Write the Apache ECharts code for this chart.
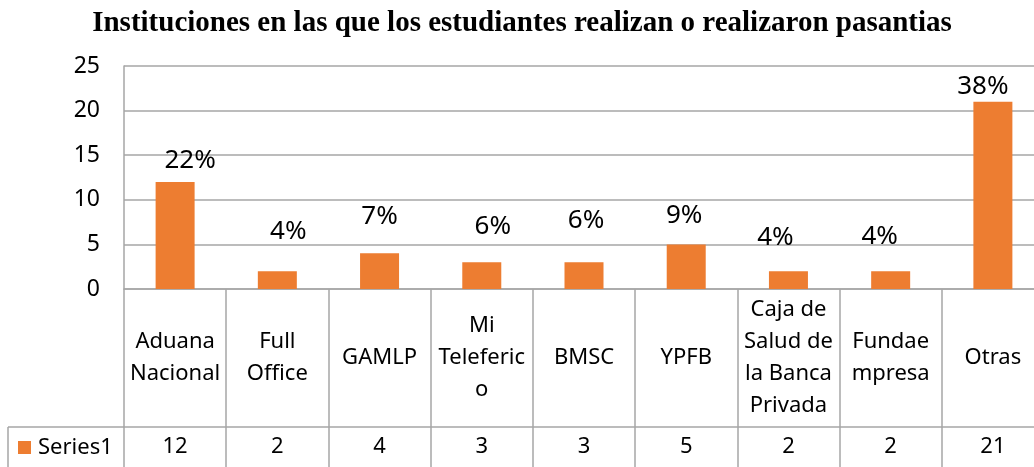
<!DOCTYPE html>
<html>
<head>
<meta charset="utf-8">
<script src="https://cdn.jsdelivr.net/npm/echarts@6/dist/echarts.min.js"></script>
<style>
  html, body { margin: 0; padding: 0; background: #fff; }
  #chart { width: 1034px; height: 467px; }
</style>
</head>
<body>
<div id="chart"></div>
<script>
// datos del grafico
const categories = [
  'Aduana\nNacional', 'Full\nOffice', 'GAMLP', 'Mi\nTeleferic\no', 'BMSC',
  'YPFB', 'Caja de\nSalud de\nla Banca\nPrivada', 'Fundae\nmpresa', 'Otras'
];
const series1 = [12, 2, 4, 3, 3, 5, 2, 2, 21];
// etiquetas de porcentaje tal como aparecen en el grafico
const pctLabels = ['22%', '4%', '7%', '6%', '6%', '9%', '4%', '4%', '38%'];
const yTicks = [0, 5, 10, 15, 20, 25];

// ajuste fino de las etiquetas de porcentaje (como en el original de Excel)
const labelNudge = [[15, -3], [11, -22], [0, -19], [11, -18], [2, -24], [-2, -11], [-13, -16], [-11, -17], [-10, 3]];

const gray = '#a6a6a6';
const font = 'Noto Sans';

const chart = echarts.init(document.getElementById('chart'));

const option = {
  animation: false,
  title: {
    text: 'Instituciones en las que los estudiantes realizan o realizaron pasantias',
    left: 517,
    top: 4,
    textAlign: 'center',
    textStyle: {
      fontFamily: 'Liberation Serif',
      fontWeight: 'bold',
      fontSize: 29,
      color: '#000'
    }
  },
  grid: {
    left: 124,
    right: -10,
    top: 66,
    bottom: 178,
    containLabel: false,
    outerBoundsMode: 'none'
  },
  xAxis: [
    {
      type: 'category',
      data: categories,
      axisLine: { lineStyle: { color: gray, width: 1.5 } },
      axisTick: { show: true, length: 178, lineStyle: { color: gray, width: 1.5 } },
      axisLabel: {
        interval: 0,
        margin: 69,
        verticalAlign: 'middle',
        color: '#000',
        fontFamily: font,
        fontSize: 22,
        lineHeight: 32
      }
    },
    {
      type: 'category',
      position: 'bottom',
      offset: 138,
      data: series1.map(String),
      axisLine: { lineStyle: { color: gray, width: 1.5 } },
      axisTick: { show: true, length: 40, lineStyle: { color: gray, width: 1.5 } },
      axisLabel: {
        interval: 0,
        margin: 20,
        verticalAlign: 'middle',
        color: '#000',
        fontFamily: font,
        fontSize: 22
      }
    }
  ],
  yAxis: {
    type: 'value',
    min: yTicks[0],
    max: yTicks[yTicks.length - 1],
    interval: 5,
    axisLine: { show: true, lineStyle: { color: gray, width: 1.5 } },
    axisTick: { show: false },
    splitLine: { lineStyle: { color: gray, width: 1.5 } },
    axisLabel: {
      margin: 24,
      color: '#000',
      fontFamily: font,
      fontSize: 23
    }
  },
  series: [
    {
      name: 'Series1',
      type: 'bar',
      xAxisIndex: 0,
      barWidth: 39,
      itemStyle: { color: '#ED7D31' },
      label: {
        show: true,
        position: 'top',
        distance: 5,
        color: '#000',
        fontFamily: font,
        fontSize: 26,
        formatter: p => pctLabels[p.dataIndex]
      },
      data: series1.map((v, i) => ({ value: v, label: { offset: labelNudge[i] } }))
    }
  ],
  // celda de la leyenda en la tabla de datos
  graphic: [
    { type: 'line', shape: { x1: 8, y1: 427, x2: 124, y2: 427 }, style: { stroke: gray, lineWidth: 1.5 } },
    { type: 'line', shape: { x1: 8, y1: 427, x2: 8, y2: 467 }, style: { stroke: gray, lineWidth: 1.5 } },
    { type: 'rect', shape: { x: 18, y: 441, width: 13, height: 13 }, style: { fill: '#ED7D31' } },
    {
      type: 'text', x: 38, y: 448,
      style: { text: 'Series1', fill: '#000', font: '22px "Noto Sans"', textVerticalAlign: 'middle' }
    }
  ]
};

chart.setOption(option);
</script>
</body>
</html>
